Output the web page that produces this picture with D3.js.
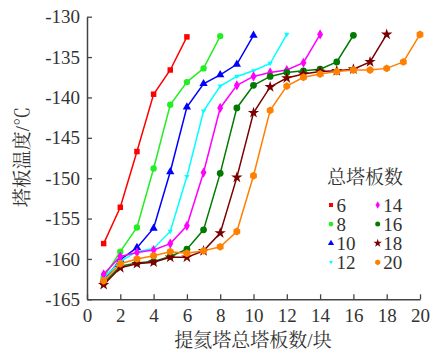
<!DOCTYPE html>
<html><head><meta charset="utf-8">
<script src="https://cdn.jsdelivr.net/npm/d3@7"></script>
<style>
html,body{margin:0;padding:0;background:#fff;}
text{font-family:"Liberation Serif","Times New Roman","Noto Serif CJK SC","Noto Sans CJK SC",serif;fill:#333;}
</style></head>
<body>
<svg id="c" width="439" height="357"></svg>
<script>
const seriesNames = ["6","8","10","12","14","16","18","20"];
const colors = ["#ff0000","#22ee22","#0000ff","#00ffff","#ff00ff","#007a00","#7a0000","#ff8000"];
const s6  = [-158.1,-153.6,-146.7,-139.6,-136.6,-132.5];
const s8  = [-162.3,-159.1,-156.1,-148.8,-140.9,-138.1,-136.4,-132.4];
const s10 = [-162.6,-160.1,-158.6,-156.2,-149.2,-141.2,-138.3,-137.2,-135.9,-132.3];
const s12 = [-162.4,-160.3,-159.1,-158.7,-156.6,-149.8,-141.7,-138.6,-137.4,-136.7,-135.8,-132.2];
const s14 = [-161.9,-159.7,-159.2,-158.9,-158.1,-155.9,-149.3,-141.3,-138.5,-137.4,-136.9,-136.6,-135.7,-132.2];
const s16 = [-163.0,-160.9,-160.5,-160.3,-159.7,-158.8,-156.4,-149.4,-141.3,-138.5,-137.4,-136.9,-136.7,-136.5,-135.6,-132.3];
const s18 = [-163.2,-161.1,-160.6,-160.4,-159.8,-159.8,-159.0,-156.8,-149.9,-141.9,-138.7,-137.6,-137.1,-136.8,-136.7,-136.5,-135.6,-132.2];
const s20 = [-162.7,-160.6,-160.0,-159.6,-159.1,-159.3,-159.0,-158.5,-156.6,-149.7,-141.6,-138.6,-137.5,-137.1,-136.8,-136.6,-136.6,-136.4,-135.6,-132.2];
const allSeries = [s6,s8,s10,s12,s14,s16,s18,s20];
const xTicks = [0,2,4,6,8,10,12,14,16,18,20];
const yTicks = [-165,-160,-155,-150,-145,-140,-135,-130];
const xTitle = "提氦塔总塔板数/块";
const yTitle = "塔板温度/℃";
const legendTitle = "总塔板数";

const svg = d3.select("#c");
const x = d3.scaleLinear().domain([0,20]).range([87,420]);
const y = d3.scaleLinear().domain([-165,-130]).range([299.3,16.7]);

const triDown = {draw(ctx,size){const h=Math.sqrt(size/(3*Math.sqrt(3)/4))/Math.sqrt(3); ctx.moveTo(0,h);ctx.lineTo(-h*0.95,-h*0.6);ctx.lineTo(h*0.95,-h*0.6);ctx.closePath();}};
const hexa = {draw(ctx,size){const r=Math.sqrt(size/2.6);for(let i=0;i<6;i++){const a=Math.PI/3*i+Math.PI/6;const px=r*Math.cos(a),py=r*Math.sin(a);if(i===0)ctx.moveTo(px,py);else ctx.lineTo(px,py);}ctx.closePath();}};
const symbols = [d3.symbolSquare,d3.symbolCircle,d3.symbolTriangle,triDown,d3.symbolDiamond,d3.symbolCircle,d3.symbolStar,hexa];
const sizes = [30,32,30,30,30,36,40,40];

const gx = svg.append("g").attr("transform","translate(0,299.3)")
  .call(d3.axisBottom(x).tickValues(xTicks).tickSizeInner(-5).tickSizeOuter(0).tickPadding(9));
const gy = svg.append("g").attr("transform","translate(87,0)")
  .call(d3.axisLeft(y).tickValues(yTicks).tickSizeInner(-5).tickSizeOuter(0).tickPadding(7).tickFormat(d=>"-"+Math.abs(d)));
[gx,gy].forEach(g=>{
  g.select(".domain").attr("stroke","#444").attr("stroke-width",1.5);
  g.selectAll(".tick line").attr("stroke","#444").attr("stroke-width",1.3);
  g.selectAll(".tick text").attr("fill","#333").style("font-size","19px").style("font-family","'Liberation Serif',serif");
});

const line = d3.line().x((d,i)=>x(i+1)).y(d=>y(d));
allSeries.forEach((s,k)=>{
  svg.append("path").datum(s).attr("d",line).attr("fill","none")
    .attr("stroke",colors[k]).attr("stroke-width",1.5);
  svg.selectAll(null).data(s).enter().append("path")
    .attr("transform",(d,i)=>`translate(${x(i+1)},${y(d)})`)
    .attr("d",d3.symbol().type(symbols[k]).size(sizes[k]))
    .attr("fill",colors[k]);
});

svg.append("text").attr("x",253).attr("y",347).attr("text-anchor","middle")
  .style("font-size","19px").text(xTitle);
svg.append("text").attr("transform","translate(29,157) rotate(-90)").attr("text-anchor","middle")
  .style("font-size","19px").text(yTitle);

svg.append("text").attr("x",365).attr("y",184).attr("text-anchor","middle")
  .style("font-size","19px").text(legendTitle);
seriesNames.forEach((n,k)=>{
  const col = Math.floor(k/4), row = k%4;
  const mx = col===0?331:377.7, my = 205 + row*19.1;
  svg.append("path").attr("transform",`translate(${mx},${my})`)
    .attr("d",d3.symbol().type(symbols[k]).size(sizes[k]*0.55)).attr("fill",colors[k]);
  svg.append("text").attr("x",mx+5.5).attr("y",my).attr("dy","0.35em")
    .style("font-size","19px").text(n);
});
</script>
</body></html>
